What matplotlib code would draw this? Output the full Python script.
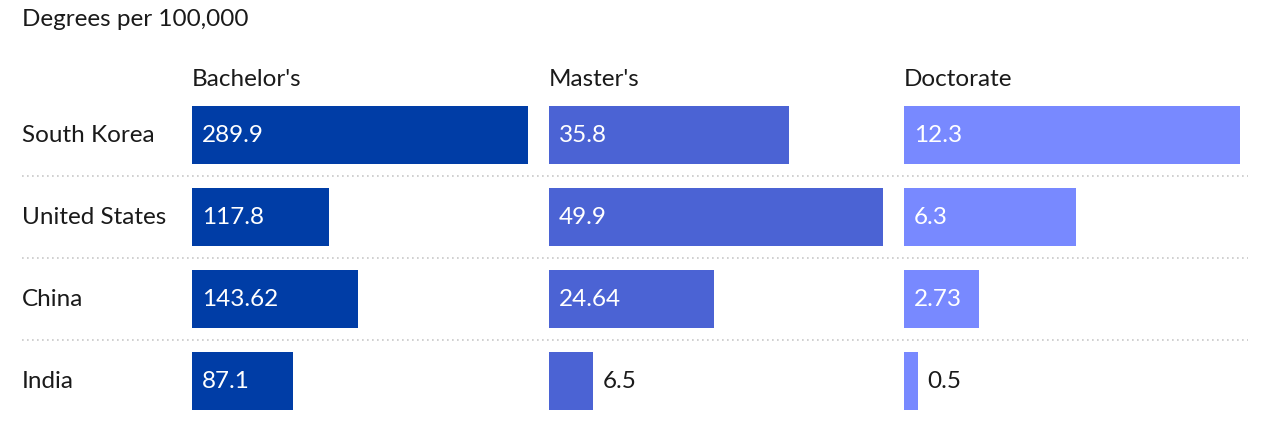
import matplotlib
matplotlib.use("Agg")
import matplotlib.pyplot as plt

plt.rcParams["font.family"] = ["Lato", "DejaVu Sans"]

countries = ["South Korea", "United States", "China", "India"]
degree_types = ["Bachelor's", "Master's", "Doctorate"]
bachelors = [289.9, 117.8, 143.62, 87.1]
masters = [35.8, 49.9, 24.64, 6.5]
doctorate = [12.3, 6.3, 2.73, 0.5]
value_labels = [
    ["289.9", "117.8", "143.62", "87.1"],
    ["35.8", "49.9", "24.64", "6.5"],
    ["12.3", "6.3", "2.73", "0.5"],
]
series = [bachelors, masters, doctorate]
colors = ["#003DA6", "#4B63D4", "#7889FF"]
FS = 17.5
TEXT = "#1a1a1a"

W, H = 1270, 429
fig = plt.figure(figsize=(W / 100, H / 100), dpi=100)

# vertical extent shared by all panels (pixels from top)
top_px, row_px = 94, 82
n = len(countries)
bottom = 1 - (top_px + n * row_px) / H
height = n * row_px / H

# background axes: row separators and country labels
bg = fig.add_axes([22 / W, bottom, (1248 - 22) / W, height])
bg.set_xlim(0, 1)
bg.set_ylim(n - 0.5, -0.5)
bg.axis("off")
for i in range(n - 1):
    bg.plot([0, 1], [i + 0.5, i + 0.5], color="#c8c8c8", lw=1.2,
            linestyle=(0, (1, 2)))
for i, c in enumerate(countries):
    bg.text(0, i, c, ha="left", va="center", fontsize=FS, color=TEXT)

panel_left = [192, 549, 904]
panel_w = [336, 334, 336]
for k, (vals, col, lab) in enumerate(zip(series, colors, value_labels)):
    ax = fig.add_axes([panel_left[k] / W, bottom, panel_w[k] / W, height])
    vmax = max(vals)
    ax.set_xlim(0, vmax)
    ax.set_ylim(n - 0.5, -0.5)
    ax.axis("off")
    ax.barh(range(n), vals, height=58 / 82, color=col, edgecolor="none")
    for i, v in enumerate(vals):
        if v / vmax > 0.2:
            ax.annotate(lab[i], (0, i), xytext=(10, 0), textcoords="offset pixels",
                        ha="left", va="center", fontsize=FS, color="white")
        else:
            ax.annotate(lab[i], (v, i), xytext=(10, 0), textcoords="offset pixels",
                        ha="left", va="center", fontsize=FS, color=TEXT)
    fig.text(panel_left[k] / W, 1 - 79 / H, degree_types[k], ha="left",
             va="center", fontsize=FS, color=TEXT)

fig.text(22 / W, 1 - 20 / H, "Degrees per 100,000", ha="left", va="center",
         fontsize=FS, color=TEXT)

fig.savefig("out.png", dpi=100, facecolor="white")
